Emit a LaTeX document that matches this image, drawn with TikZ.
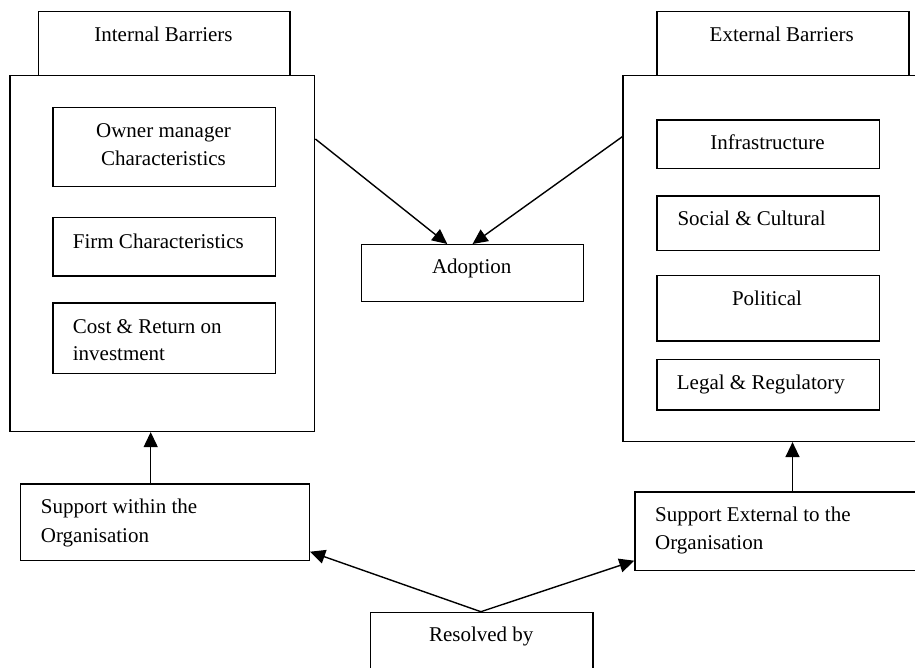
\documentclass[tikz,border=0pt]{standalone}
\usepackage{fontspec}
\setmainfont{Liberation Serif}
\usetikzlibrary{arrows.meta}
\begin{document}
\begin{tikzpicture}[x=1pt,y=-1pt,
  box/.style={draw,line width=1.4pt,rectangle,inner sep=0pt,anchor=north west},
  txt/.style={inner sep=0pt,font=\fontsize{21}{28}\selectfont},
  arr/.style={line width=1.4pt,-{Triangle[length=15pt,width=14pt]}}]
\useasboundingbox (0,0) rectangle (915,668);
\begin{scope}
\clip (0,0) rectangle (915,668);
% tabs
\node[box,minimum width=251.6pt,minimum height=64pt] (itab) at (37.7,11) {};
\node[box,minimum width=252pt,minimum height=64pt] (etab) at (656.3,11) {};
% big boxes
\node[box,minimum width=304.7pt,minimum height=355.7pt] (lbox) at (9.3,75) {};
\node[box,minimum width=310pt,minimum height=365.7pt] (rbox) at (622.3,75) {};
% inner left
\node[box,minimum width=222.7pt,minimum height=79pt] (owner) at (52.3,107) {};
\node[box,minimum width=222.7pt,minimum height=58.3pt] (firm) at (52.3,217) {};
\node[box,minimum width=222.7pt,minimum height=70.7pt] (cost) at (52.3,302.3) {};
% inner right
\node[box,minimum width=222.7pt,minimum height=48.4pt] (infra) at (656.3,119.3) {};
\node[box,minimum width=222.7pt,minimum height=54.7pt] (social) at (656.3,195.3) {};
\node[box,minimum width=222.7pt,minimum height=65.3pt] (polit) at (656.3,275) {};
\node[box,minimum width=222.7pt,minimum height=50.6pt] (legal) at (656.3,358.7) {};
% middle
\node[box,minimum width=221.7pt,minimum height=57pt] (adopt) at (361,244) {};
\node[box,minimum width=288.7pt,minimum height=76.7pt] (sin) at (20,483.3) {};
\node[box,minimum width=300pt,minimum height=78.7pt] (sext) at (634.3,491.3) {};
\node[box,minimum width=222.3pt,minimum height=80pt] (res) at (370,611.7) {};
\end{scope}
% texts
\node[txt,anchor=base] (titab) at (163.5,41.5) {Internal Barriers};
\node[txt,anchor=base] (tetab) at (781.7,41.5) {External Barriers};
\node[txt,anchor=base] (towner1) at (163.5,137.7) {Owner manager};
\node[txt,anchor=base] (towner2) at (163.5,165.7) {Characteristics};
\node[txt,anchor=base west] (tfirm) at (72.7,248.3) {Firm Characteristics};
\node[txt,anchor=base west] (tcost1) at (72.7,333.3) {Cost \& Return on};
\node[txt,anchor=base west] (tcost2) at (72.7,360.7) {investment};
\node[txt,anchor=base] (tadopt) at (471.7,273.3) {Adoption};
\node[txt,anchor=base] (tinfra) at (767.5,150) {Infrastructure};
\node[txt,anchor=base west] (tsocial) at (677.3,225.7) {Social \& Cultural};
\node[txt,anchor=base] (tpolit) at (767,305) {Political};
\node[txt,anchor=base west] (tlegal) at (676.7,389) {Legal \& Regulatory};
\node[txt,anchor=base west] (tsin1) at (40.7,513.3) {Support within the};
\node[txt,anchor=base west] (tsin2) at (40.7,542.3) {Organisation};
\node[txt,anchor=base west] (tsext1) at (655,521.7) {Support External to the};
\node[txt,anchor=base west] (tsext2) at (655,549.3) {Organisation};
\node[txt,anchor=base] (tres) at (481.2,641.7) {Resolved by};
% connectors
\draw[arr] (lbox.east |- 0,139) -- ([xshift=-25.3pt]adopt.north);
\draw[arr] (rbox.west |- 0,136.7) -- (adopt.north);
\draw[arr] (sin.north -| 150.7,0) -- (lbox.south -| 150.7,0);
\draw[arr] (sext.north -| 792.5,0) -- (rbox.south -| 792.5,0);
\draw[arr] ([xshift=-1pt]res.north) -- (sin.east |- 0,551.7);
\draw[arr] ([xshift=-1pt]res.north) -- (sext.west |- 0,560.7);
\end{tikzpicture}
\end{document}
